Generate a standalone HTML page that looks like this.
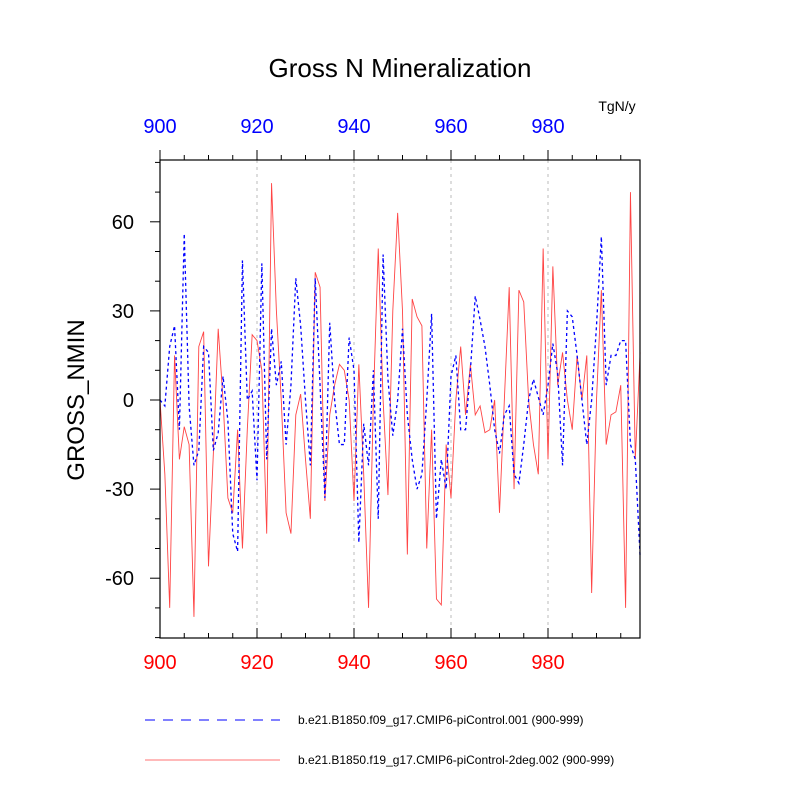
<!DOCTYPE html>
<html><head><meta charset="utf-8"><style>body{margin:0;background:#fff}svg{display:block;font-family:"Liberation Sans",sans-serif}</style></head>
<body>
<svg id="chart" width="800" height="800">
<text x="400" y="77" font-size="26" text-anchor="middle">Gross N Mineralization</text>
<text x="617" y="111" font-size="14" text-anchor="middle">TgN/y</text>
<text x="84" y="400" font-size="24" text-anchor="middle" transform="rotate(-90 84 400)">GROSS_NMIN</text>
<g id="grid"></g><g id="series"></g><g id="axes"></g>
<rect x="160" y="160" width="480" height="478" fill="none" stroke="#000" stroke-width="1.2"/>
<line x1="145" y1="720" x2="280" y2="720" stroke="#00f" stroke-dasharray="10,8"/>
<text x="298" y="724" font-size="12">b.e21.B1850.f09_g17.CMIP6-piControl.001 (900-999)</text>
<line x1="145" y1="760" x2="280" y2="760" stroke="#f44" stroke-width="0.8"/>
<text x="298" y="764" font-size="12">b.e21.B1850.f19_g17.CMIP6-piControl-2deg.002 (900-999)</text>
</svg>
<script>
const years=[];for(let i=0;i<100;i++)years.push(900+i);
const blueVals=[0,-2,18,25,-10,56,-2,-22,-17,18,16,-17,-11,8,-7,-45,-51,47,0,3,-27,46,-20,24,5,13,-15,5,41,25,0,-22,41,5,-33,26,0,-15,-15,21,10,-48,-8,-22,10,-40,49,7,-12,0,24,-5,-20,-30,-25,0,29,-40,-20,-30,8,15,-10,-10,10,35,27,18,5,-10,-18,-5,-2,-25,-28,-15,0,7,1,-5,5,19,9,-22,30,28,15,0,-15,0,25,55,5,15,15,20,20,-15,-20,-53];
const redVals=[0,-25,-70,15,-20,-9,-15,-73,18,23,-56,-18,24,0,-33,-38,-10,-50,-10,22,20,10,-45,73,30,0,-38,-45,-5,2,-20,-40,43,38,-34,-5,5,12,10,0,-34,12,-25,-70,0,51,0,-32,30,63,30,-52,34,28,25,-50,-10,-67,-69,-15,-33,0,18,-5,12,-5,-2,-11,-10,0,-38,0,38,-30,37,33,0,-15,-25,51,-20,45,5,16,0,-10,15,0,15,-65,0,37,-15,-5,-4,5,-70,70,-20,16];
const xTicks=[900,920,940,960,980];
const yTicks=[-60,-30,0,30,60];
const NS='http://www.w3.org/2000/svg';
const X=v=>160+(v-900)*4.85, Y=v=>400-v*2.97;
function mk(t,a,p){const e=document.createElementNS(NS,t);for(const k in a)e.setAttribute(k,a[k]);document.getElementById(p).appendChild(e);return e;}
xTicks.forEach(t=>{
 if(t>900){const g=mk('line',{x1:X(t),x2:X(t),y1:160,y2:638,stroke:'#bbb','stroke-dasharray':'3,4'},'grid');
 
 }
 const a=mk('text',{x:X(t),y:669,'font-size':20,fill:'#f00','text-anchor':'middle'},'axes');a.textContent=t;
 
 
 const b=mk('text',{x:X(t),y:133,'font-size':20,fill:'#00f','text-anchor':'middle'},'axes');b.textContent=t;
 
 
});
for(let t=900;t<1000;t+=5){const big=t%20===0;
 mk('line',{x1:X(t),x2:X(t),y1:638,y2:638-(big?10:5),stroke:'#000'},'axes');
 mk('line',{x1:X(t),x2:X(t),y1:160,y2:160-(big?10:5),stroke:'#000'},'axes');}
for(let v=-80;v<=80;v+=10){const big=v%30===0;
 mk('line',{x1:160,x2:160-(big?10:5),y1:Y(v),y2:Y(v),stroke:'#000'},'axes');}
yTicks.forEach(t=>{const a=mk('text',{x:134,y:Y(t)+7,'font-size':20,'text-anchor':'end'},'axes');a.textContent=t;
 
 });
const rp=mk('polyline',{points:redVals.map((v,i)=>X(years[i])+','+Y(v)).join(' '),fill:'none',stroke:'#f44','stroke-width':0.9},'series');


const bp=mk('polyline',{points:blueVals.map((v,i)=>X(years[i])+','+Y(v)).join(' '),fill:'none',stroke:'#00f','stroke-width':1.3,'stroke-dasharray':'3,3'},'series');


</script>
</body></html>
